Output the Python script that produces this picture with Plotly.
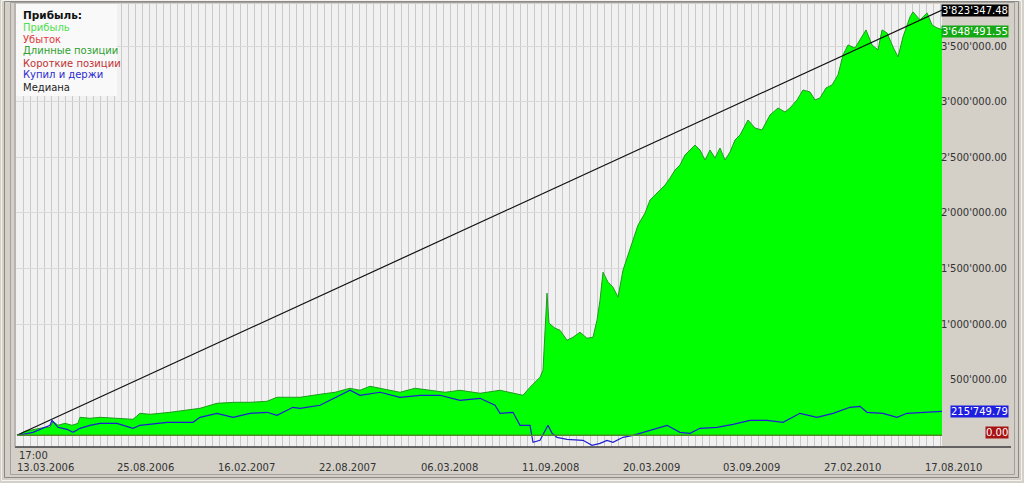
import plotly.graph_objects as go

# ---------------- data ----------------
profit_bars = [0, 8, 18, 28, 33, 36, 41, 48, 55, 61, 63, 73, 83, 98, 116, 123, 133, 153, 183, 200,
               218, 233, 250, 260, 283, 303, 318, 333, 343, 353, 368, 383, 398, 413, 428, 443, 463,
               483, 496, 506, 513, 523, 526, 530, 532, 538, 543, 550, 556, 563, 570, 576, 580, 583,
               586, 591, 596, 601, 606, 611, 616, 621, 628, 633, 638, 643, 648, 653, 658, 663, 668,
               673, 678, 683, 688, 693, 698, 703, 708, 713, 718, 723, 731, 738, 745, 753, 761, 768,
               773, 780, 786, 793, 798, 803, 809, 815, 821, 826, 831, 838, 843, 849, 855, 861, 865,
               870, 876, 881, 886, 893, 896, 903, 910, 915, 920, 925]
profit_vals = [0, 36000, 54000, 72000, 72000, 126000, 90000, 108000, 90000, 108000, 162000, 153000,
               162000, 153000, 144000, 198000, 189000, 207000, 243000, 288000, 297000, 297000,
               306000, 342000, 342000, 369000, 387000, 423000, 405000, 441000, 414000, 387000,
               423000, 405000, 387000, 405000, 378000, 405000, 378000, 360000, 432000, 522000,
               585000, 1278000, 1008000, 963000, 945000, 855000, 882000, 927000, 873000, 882000,
               1035000, 1215000, 1467000, 1377000, 1332000, 1242000, 1485000, 1620000, 1755000,
               1890000, 1998000, 2115000, 2160000, 2205000, 2250000, 2313000, 2385000, 2430000,
               2520000, 2565000, 2610000, 2565000, 2475000, 2565000, 2493000, 2583000, 2475000,
               2547000, 2655000, 2700000, 2835000, 2763000, 2745000, 2880000, 2943000, 2907000,
               2943000, 3015000, 3105000, 3087000, 3015000, 3033000, 3123000, 3150000, 3240000,
               3420000, 3510000, 3483000, 3555000, 3645000, 3510000, 3465000, 3645000, 3618000,
               3492000, 3402000, 3582000, 3762000, 3807000, 3735000, 3798000, 3690000, 3663000,
               3648491.55]

hold_bars = [0, 16, 33, 35, 41, 50, 56, 63, 73, 83, 100, 116, 123, 150, 176, 183, 200, 216, 233,
             250, 260, 276, 283, 303, 323, 333, 343, 363, 383, 403, 423, 443, 463, 478, 483, 496,
             503, 513, 516, 523, 531, 535, 540, 550, 566, 575, 583, 590, 596, 606, 616, 623, 633,
             650, 663, 673, 683, 700, 716, 733, 750, 766, 783, 800, 816, 833, 843, 850, 866, 880,
             890, 903, 925]
hold_vals = [0, 27000, 90000, 135000, 72000, 54000, 27000, 63000, 90000, 108000, 108000, 63000,
             90000, 117000, 117000, 162000, 198000, 162000, 198000, 207000, 180000, 252000,
             243000, 270000, 360000, 405000, 360000, 387000, 342000, 360000, 360000, 315000,
             333000, 270000, 198000, 207000, 90000, 90000, -63000, -45000, 90000, 18000, -18000,
             -36000, -45000, -90000, -72000, -45000, -63000, -18000, 0, 18000, 45000, 90000,
             27000, 18000, 63000, 72000, 99000, 135000, 135000, 117000, 198000, 162000, 198000,
             252000, 261000, 207000, 198000, 162000, 198000, 207000, 215749.79]

median_bars = [0, 925]
median_vals = [0, 3823347.48]

tick_bars = [0, 100, 201, 302, 404, 505, 606, 706, 807, 908]
tick_dates = ["13.03.2006", "25.08.2006", "16.02.2007", "22.08.2007", "06.03.2008",
              "11.09.2008", "20.03.2009", "03.09.2009", "27.02.2010", "17.08.2010"]
first_time = "17:00"

y_ticks = [500000, 1000000, 1500000, 2000000, 2500000, 3000000, 3500000]

legend_title = "Прибыль:"
legend_items = ["Прибыль", "Убыток", "Длинные позиции", "Короткие позиции", "Купил и держи", "Медиана"]
legend_colors = ["#4fe04f", "#e23b3b", "#2f9f2f", "#c23232", "#2b2bd2", "#222222"]

# ---------------- layout helpers ----------------
W, H = 1024, 483
PL, PR, PT, PB = 16, 942, 4, 447
FONT = "DejaVu Sans"


def px(x):
    return (x - PL) / (PR - PL)


def py(y):
    return (PB - y) / (PB - PT)


def fmt(v):
    s = f"{v:,.2f}"
    return s.replace(",", "'")


fig = go.Figure()

fig.add_trace(go.Scatter(x=profit_bars, y=profit_vals, mode="lines", fill="tozeroy",
                         fillcolor="#00ff00", line=dict(color="#1f9a1f", width=1),
                         name="Прибыль", hoverinfo="skip"))
fig.add_trace(go.Scatter(x=median_bars, y=median_vals, mode="lines",
                         line=dict(color="#111111", width=1.2), name="Медиана", hoverinfo="skip"))
fig.add_trace(go.Scatter(x=hold_bars, y=hold_vals, mode="lines",
                         line=dict(color="#1e1ed2", width=1.2), name="Купил и держи", hoverinfo="skip"))

shapes = []
# zero line under the profit area
shapes.append(dict(type="line", xref="x", yref="y", x0=0, x1=925, y0=0, y1=0,
                   line=dict(color="#4f8a24", width=1.5), layer="above"))
# legend box
shapes.append(dict(type="rect", xref="paper", yref="paper", x0=px(16), x1=px(117), y0=py(96), y1=py(4),
                   fillcolor="#f9f9f9", line=dict(width=0), layer="above"))
# bottom axis line
shapes.append(dict(type="line", xref="paper", yref="paper", x0=px(15), x1=px(1011), y0=py(447), y1=py(447),
                   line=dict(color="#3c3c3c", width=1.5)))
# plot left border
shapes.append(dict(type="line", xref="paper", yref="paper", x0=px(15), x1=px(15), y0=py(447), y1=py(3),
                   line=dict(color="#9a9a9a", width=1)))
# outer frames
shapes.append(dict(type="rect", xref="paper", yref="paper", x0=px(1.5), x1=px(1021.5), y0=py(480.5), y1=py(0.5),
                   line=dict(color="#f4f2ee", width=1)))
shapes.append(dict(type="rect", xref="paper", yref="paper", x0=px(4.5), x1=px(1018.5), y0=py(477.5), y1=py(1.5),
                   line=dict(color="#8c8a86", width=1)))
shapes.append(dict(type="rect", xref="paper", yref="paper", x0=px(10.5), x1=px(1014.5), y0=py(474.5), y1=py(2.5),
                   line=dict(color="#a4a29e", width=1)))

annotations = []
# legend
annotations.append(dict(xref="paper", yref="paper", x=px(21), y=py(15), xanchor="left", yanchor="middle",
                        text="<b>" + legend_title + "</b>", showarrow=False,
                        font=dict(family=FONT, size=10.5, color="#111111")))
for i, (name, col) in enumerate(zip(legend_items, legend_colors)):
    annotations.append(dict(xref="paper", yref="paper", x=px(21), y=py(27 + 12 * i), xanchor="left",
                            yanchor="middle", text=name, showarrow=False,
                            font=dict(family=FONT, size=10, color=col)))
# y tick labels on the right
for v in y_ticks:
    annotations.append(dict(xref="paper", yref="y", x=px(1009), y=v, xanchor="right", yanchor="middle",
                            text=fmt(v), showarrow=False, font=dict(family=FONT, size=10, color="#333333")))
# value boxes
boxes = [(median_vals[-1], "#000000", 0), (profit_vals[-1], "#14a814", -2),
         (hold_vals[-1], "#1e1ee0", 0), (0.0, "#a81414", 3)]
for v, col, ys in boxes:
    annotations.append(dict(xref="paper", yref="y", x=px(1009), y=v, xanchor="right", yanchor="middle",
                            text=fmt(v), showarrow=False, bgcolor=col, borderpad=0, yshift=ys,
                            font=dict(family=FONT, size=10, color="#ffffff")))
# time above first date
annotations.append(dict(xref="paper", yref="paper", x=px(17), y=py(455), xanchor="left", yanchor="middle",
                        text=first_time, showarrow=False, font=dict(family=FONT, size=10, color="#333333")))

fig.update_layout(
    width=W, height=H,
    margin=dict(l=PL, r=W - PR, t=PT, b=H - PB, pad=0),
    paper_bgcolor="#d4d0c8", plot_bgcolor="#f1f1f1",
    showlegend=False,
    shapes=shapes, annotations=annotations,
    xaxis=dict(range=[-1, 925], tickmode="array", tickvals=tick_bars, ticktext=tick_dates,
               ticklabelposition="outside right", ticks="", showgrid=False, zeroline=False,
               showline=False, ticklabelstandoff=13,
               tickfont=dict(family=FONT, size=10, color="#333333"),
               minor=dict(tickmode="linear", tick0=6, dtick=7, showgrid=True, gridcolor="#c9c9c9",
                          gridwidth=1, ticks=""),
               fixedrange=True),
    yaxis=dict(range=[-105000, 3878000], tickmode="array", tickvals=y_ticks, showticklabels=False,
               showgrid=True, gridcolor="#d9d9d9", gridwidth=1, zeroline=False, showline=False,
               ticks="", fixedrange=True),
)

fig.write_html("out.html", config={"displayModeBar": False},
               post_script="document.body.style.margin='0';document.body.style.overflow='hidden';")
